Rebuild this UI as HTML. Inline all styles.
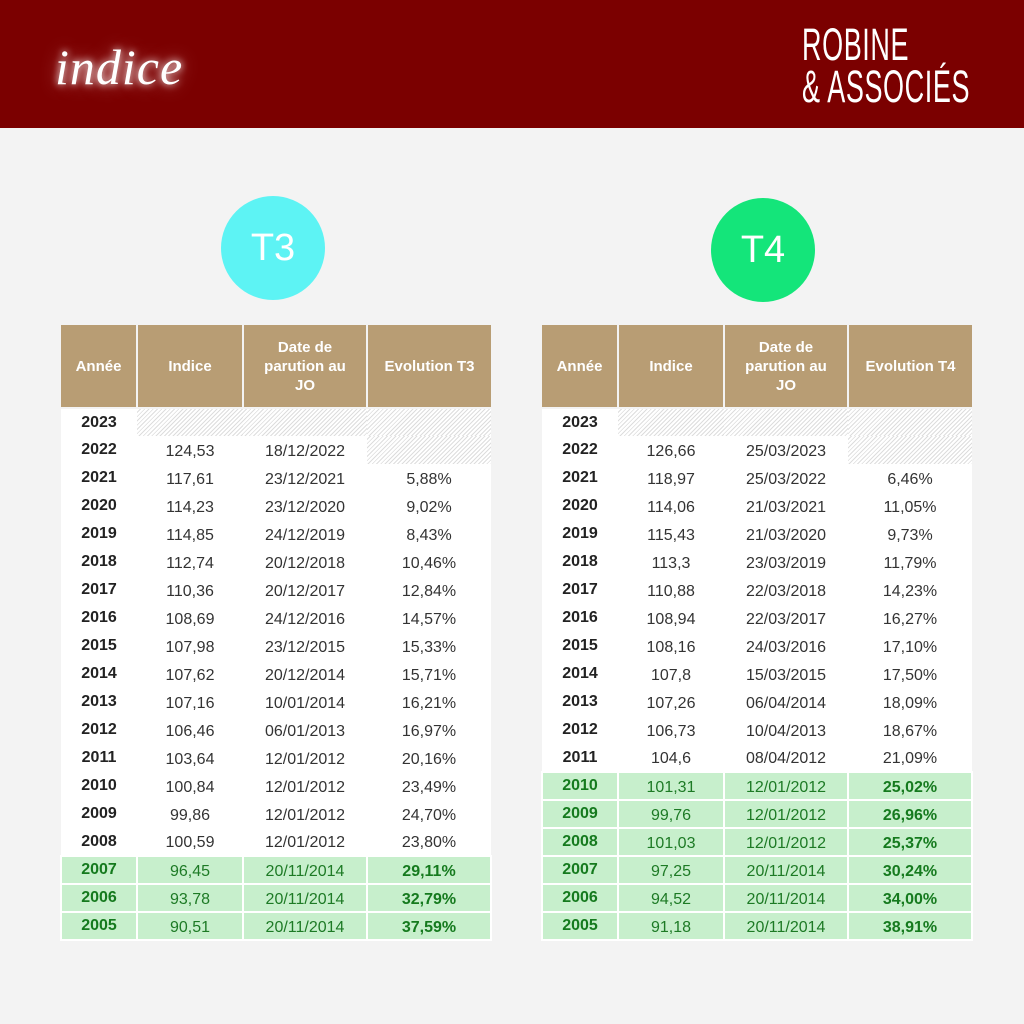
<!DOCTYPE html>
<html><head><meta charset="utf-8"><style>
*{margin:0;padding:0;box-sizing:border-box}
body{width:1024px;height:1024px;position:relative;overflow:hidden;background:#f3f3f3;font-family:"Liberation Sans",sans-serif}
.hdr{position:absolute;left:0;top:0;width:1024px;height:128px;background:#7b0000}
.indice{position:absolute;left:55px;top:38px;font-family:"Liberation Serif",serif;font-style:italic;font-size:50px;color:#fff;text-shadow:0 0 8px #fff,0 0 18px rgba(255,200,200,.6);letter-spacing:1px}
.logo{position:absolute;left:802px;top:24px;color:#fff;font-size:45px;line-height:42px;transform:scaleX(.6);transform-origin:left top;letter-spacing:1px;white-space:nowrap}
.circ{position:absolute;width:104px;height:104px;border-radius:50%;color:#fff;font-size:38px;text-align:center;line-height:104px}
table{position:absolute;top:325px;border-collapse:collapse;table-layout:fixed}
th{background:#b89d74;color:#fff;font-size:15px;font-weight:bold;height:83px;border:2px solid #f3f3f3;border-top:0;line-height:19px}
th:first-child{border-left:0}th:last-child{border-right:0}
td{height:28px;text-align:center;font-size:16px;color:#333;background:#fff;padding-top:3px}
td:first-child{font-weight:bold;color:#222;padding-top:0}
td.h{background:repeating-linear-gradient(135deg,#fff 0 2px,#ddd 2px 3px)}
tr.g td{background:#c7efcc;color:#1d7a25;border:2px solid #fff}
tr.g td:first-child,tr.g td:last-child{font-weight:bold;color:#157a1e}
tr.g td:last-child{font-size:16px}
</style></head><body>
<div class="hdr"></div>
<div class="indice">indice</div>
<div class="logo">ROBINE<br>&amp; ASSOCIÉS</div>
<div class="circ" style="left:221px;top:196px;background:#5df3f4">T3</div>
<div class="circ" style="left:711px;top:198px;background:#14e57a">T4</div>

<table style="left:60px;width:430px">
<colgroup><col style="width:76px"><col style="width:106px"><col style="width:124px"><col style="width:124px"></colgroup>
<tr><th>Année</th><th>Indice</th><th>Date de<br>parution au<br>JO</th><th>Evolution T3</th></tr>
<tr><td>2023</td><td class="h"></td><td class="h"></td><td class="h"></td></tr>
<tr><td>2022</td><td>124,53</td><td>18/12/2022</td><td class="h"></td></tr>
<tr><td>2021</td><td>117,61</td><td>23/12/2021</td><td>5,88%</td></tr>
<tr><td>2020</td><td>114,23</td><td>23/12/2020</td><td>9,02%</td></tr>
<tr><td>2019</td><td>114,85</td><td>24/12/2019</td><td>8,43%</td></tr>
<tr><td>2018</td><td>112,74</td><td>20/12/2018</td><td>10,46%</td></tr>
<tr><td>2017</td><td>110,36</td><td>20/12/2017</td><td>12,84%</td></tr>
<tr><td>2016</td><td>108,69</td><td>24/12/2016</td><td>14,57%</td></tr>
<tr><td>2015</td><td>107,98</td><td>23/12/2015</td><td>15,33%</td></tr>
<tr><td>2014</td><td>107,62</td><td>20/12/2014</td><td>15,71%</td></tr>
<tr><td>2013</td><td>107,16</td><td>10/01/2014</td><td>16,21%</td></tr>
<tr><td>2012</td><td>106,46</td><td>06/01/2013</td><td>16,97%</td></tr>
<tr><td>2011</td><td>103,64</td><td>12/01/2012</td><td>20,16%</td></tr>
<tr><td>2010</td><td>100,84</td><td>12/01/2012</td><td>23,49%</td></tr>
<tr><td>2009</td><td>99,86</td><td>12/01/2012</td><td>24,70%</td></tr>
<tr><td>2008</td><td>100,59</td><td>12/01/2012</td><td>23,80%</td></tr>
<tr class="g"><td>2007</td><td>96,45</td><td>20/11/2014</td><td>29,11%</td></tr>
<tr class="g"><td>2006</td><td>93,78</td><td>20/11/2014</td><td>32,79%</td></tr>
<tr class="g"><td>2005</td><td>90,51</td><td>20/11/2014</td><td>37,59%</td></tr>
</table>

<table style="left:541px;width:430px">
<colgroup><col style="width:76px"><col style="width:106px"><col style="width:124px"><col style="width:124px"></colgroup>
<tr><th>Année</th><th>Indice</th><th>Date de<br>parution au<br>JO</th><th>Evolution T4</th></tr>
<tr><td>2023</td><td class="h"></td><td class="h"></td><td class="h"></td></tr>
<tr><td>2022</td><td>126,66</td><td>25/03/2023</td><td class="h"></td></tr>
<tr><td>2021</td><td>118,97</td><td>25/03/2022</td><td>6,46%</td></tr>
<tr><td>2020</td><td>114,06</td><td>21/03/2021</td><td>11,05%</td></tr>
<tr><td>2019</td><td>115,43</td><td>21/03/2020</td><td>9,73%</td></tr>
<tr><td>2018</td><td>113,3</td><td>23/03/2019</td><td>11,79%</td></tr>
<tr><td>2017</td><td>110,88</td><td>22/03/2018</td><td>14,23%</td></tr>
<tr><td>2016</td><td>108,94</td><td>22/03/2017</td><td>16,27%</td></tr>
<tr><td>2015</td><td>108,16</td><td>24/03/2016</td><td>17,10%</td></tr>
<tr><td>2014</td><td>107,8</td><td>15/03/2015</td><td>17,50%</td></tr>
<tr><td>2013</td><td>107,26</td><td>06/04/2014</td><td>18,09%</td></tr>
<tr><td>2012</td><td>106,73</td><td>10/04/2013</td><td>18,67%</td></tr>
<tr><td>2011</td><td>104,6</td><td>08/04/2012</td><td>21,09%</td></tr>
<tr class="g"><td>2010</td><td>101,31</td><td>12/01/2012</td><td>25,02%</td></tr>
<tr class="g"><td>2009</td><td>99,76</td><td>12/01/2012</td><td>26,96%</td></tr>
<tr class="g"><td>2008</td><td>101,03</td><td>12/01/2012</td><td>25,37%</td></tr>
<tr class="g"><td>2007</td><td>97,25</td><td>20/11/2014</td><td>30,24%</td></tr>
<tr class="g"><td>2006</td><td>94,52</td><td>20/11/2014</td><td>34,00%</td></tr>
<tr class="g"><td>2005</td><td>91,18</td><td>20/11/2014</td><td>38,91%</td></tr>
</table>
</body></html>
